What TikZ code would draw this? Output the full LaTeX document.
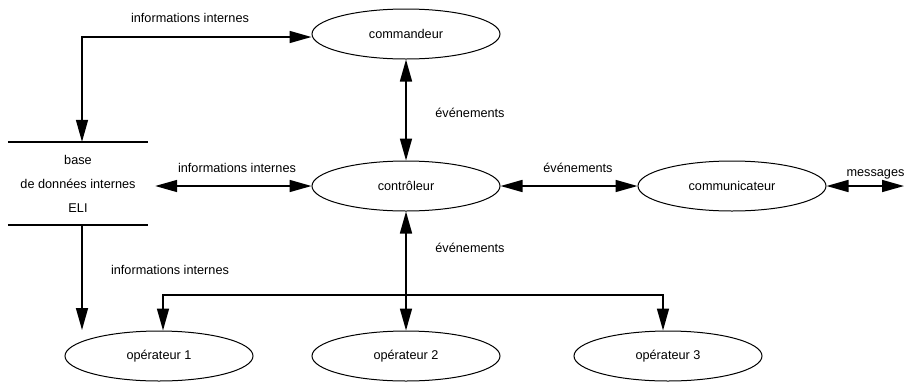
\documentclass[tikz,border=0pt]{standalone}
\usepackage{fontspec}
\setsansfont{Liberation Sans}
\usetikzlibrary{arrows.meta,positioning,shapes.geometric,calc}

\begin{document}
\begin{tikzpicture}[
  x=1pt, y=-1pt,
  every node/.style={font=\sffamily\fontsize{12.7}{15}\selectfont},
  proc/.style={ellipse, draw, line width=1pt, inner sep=0pt,
    minimum width=188pt, minimum height=50pt},
  store/.style={rectangle, inner sep=0pt, minimum width=140pt,
    minimum height=83pt, align=center,
    font=\sffamily\fontsize{12.7}{24}\selectfont},
  flow/.style={line width=1.6pt, >={Triangle[length=22pt, width=12pt]}},
]
  \useasboundingbox (0,0) rectangle (905,381);

  %% Processes
  \node[proc] (cmd) at (406,34) {commandeur};
  \node[proc] (ctl) at (406,186) {contrôleur};
  \node[proc] (com) at (732,186) {communicateur};
  \node[proc] (op1) at (159,356) {opérateur 1};
  \node[proc] (op2) at (406,356) {opérateur 2};
  \node[proc] (op3) at (668,356) {opérateur 3};

  %% Data store: two horizontal lines
  \node[store] (eli) at (78,183.5) {base\\de données internes\\ELI};
  \draw[line width=1.6pt] (eli.north west) -- (eli.north east);
  \draw[line width=1.6pt] (eli.south west) -- (eli.south east);

  %% Free ends and corners
  \coordinate (corner) at (82,37);
  \coordinate (bus) at (406,295);
  \coordinate (leftend) at (82,330);
  \coordinate (msgend) at (904,186);

  %% Flows
  \draw[flow, <->] (eli.north -| corner) -- (corner) -- (cmd.west |- corner);
  \draw[flow, <->] (cmd) -- (ctl);
  \draw[flow, <->, shorten <=7pt] (eli.east |- ctl) -- (ctl);
  \draw[flow, <->] (ctl) -- (com);
  \draw[flow, <->] (com) -- (msgend);
  \draw[flow, <->] (ctl) -- (op2);
  \draw[flow, ->] (bus) -| ($(op1.north)+(4,0)$);
  \draw[flow, ->] (bus) -| ($(op3.north)+(-5,0)$);
  \draw[flow, ->] (eli.south -| corner) -- (leftend);

  %% Labels
  \node (l1) at (190,18) {informations internes};
  \node (l2) at (470,113) {événements};
  \node (l3) at (237,168) {informations internes};
  \node (l4) at (578,168) {événements};
  \node[anchor=west] (l5) at (843,174) {messages};
  \node (l6) at (470,248) {événements};
  \node (l7) at (170,270) {informations internes};
\end{tikzpicture}
\end{document}
